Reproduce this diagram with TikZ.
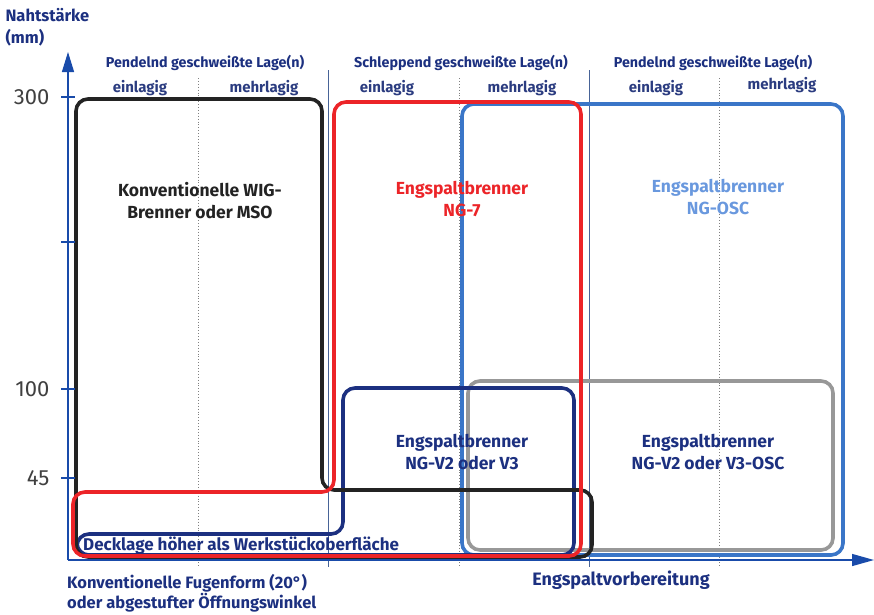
\documentclass[tikz,border=0pt]{standalone}
\usepackage{fontspec}
\setmainfont{Fira Sans}
\usepackage{tikz}
\usetikzlibrary{arrows.meta, positioning}
\definecolor{navyT}{RGB}{28,48,128}
\definecolor{axisB}{RGB}{25,75,170}
\definecolor{redT}{RGB}{236,36,40}
\definecolor{blueT}{RGB}{58,118,200}
\definecolor{lblueT}{RGB}{105,152,222}
\definecolor{grayT}{RGB}{152,152,152}
\definecolor{blackT}{RGB}{35,35,35}

\tikzset{
  hdr/.style={font=\fontsize{14.3}{16}\selectfont\bfseries, text=navyT},
  subhdr/.style={font=\fontsize{15}{16}\selectfont\bfseries, text=navyT!85!gray},
  lbl/.style={font=\fontsize{17.5}{22}\selectfont\bfseries, align=center},
  num/.style={font=\fontsize{22}{24}\selectfont, text=black!75, anchor=east},
  area/.style={line width=3.6pt, rounded corners=12pt},
  axisline/.style={axisB, line width=1.3pt},
}

\begin{document}
\begin{tikzpicture}[x=1pt, y=-1pt]
  \useasboundingbox (0,0) rectangle (874,614);

  % column dividers
  \foreach \xx in {328,589}
    \draw[axisB!55!gray, line width=0.7pt] (\xx,70) -- (\xx,567);
  \foreach \xx in {198,459,719}
    \draw[gray, dotted, line width=0.9pt] (\xx,78) -- (\xx,567);

  % areas
  \draw[area, blueT] (462,104) rectangle (843,555);
  \draw[area, grayT] (468,381) rectangle (833,550);
  \draw[area, navyT] (460,388) -- (574,388) -- (574,555) -- (77,555) -- (77,534)
    -- (343,534) -- (343,388) -- cycle;
  \draw[area, blackT] (200,99) -- (322,99) -- (322,490) -- (592,490) -- (592,557)
    -- (76,557) -- (76,99) -- cycle;
  \draw[area, redT] (460,102) -- (581,102) -- (581,556) -- (73,556) -- (73,492)
    -- (334,492) -- (334,102) -- cycle;

  % axes
  \coordinate (orig) at (68,560);
  \coordinate (ytop) at (68,52);
  \coordinate (xend) at (874,560);
  \draw[axisline, -{Triangle[length=20pt, width=12pt]}] (orig) -- (ytop);
  \draw[axisline, -{Triangle[length=22pt, width=12pt]}] (orig) -- (xend);
  \foreach \yy in {97,242,389,478}
    \draw[axisline] (61,\yy) -- (75,\yy);
  \node[num] (n300) at (53,97) {300};
  \node[num] (n100) at (53,389) {100};
  \node[num] (n45) at (53,478) {45};

  \node[font=\fontsize{16.5}{22}\selectfont\bfseries, text=navyT, align=left, anchor=west] (yname) at (2,27) {Nahtstärke\\(mm)};

  % column headers
  \node[hdr] (h1) at (205,63) {Pendelnd geschweißte Lage(n)};
  \node[hdr] (h2) at (461,63) {Schleppend geschweißte Lage(n)};
  \node[hdr] (h3) at (713,63) {Pendelnd geschweißte Lage(n)};
  \node[subhdr] (s1) at (140,88) {einlagig};
  \node[subhdr] (s2) at (264,88) {mehrlagig};
  \node[subhdr] (s3) at (387,88) {einlagig};
  \node[subhdr] (s4) at (522,88) {mehrlagig};
  \node[subhdr] (s5) at (656,88) {einlagig};
  \node[subhdr] (s6) at (782,85) {mehrlagig};

  % area labels
  \node[lbl, text=blackT] (wig) at (200,201) {Konventionelle WIG-\\Brenner oder MSO};
  \node[lbl, text=redT] (ng7) at (462,199) {Engspaltbrenner\\NG-7};
  \node[lbl, text=lblueT] (ngosc) at (718,197) {Engspaltbrenner\\NG-OSC};
  \node[lbl, text=navyT] (ngv) at (462,452) {Engspaltbrenner\\NG-V2 oder V3};
  \node[lbl, text=navyT] (ngvosc) at (708,452) {Engspaltbrenner\\NG-V2 oder V3-OSC};
  \node[font=\fontsize{17}{18}\selectfont\bfseries, text=navyT, anchor=west, inner sep=0pt] (deck) at (83,546) {Decklage höher als Werkstückoberfläche};

  % bottom labels
  \node[font=\fontsize{16.5}{18}\selectfont\bfseries, text=navyT, align=left, anchor=north west, inner sep=0pt] (fuge) at (67,574) {Konventionelle Fugenform (20°)\\oder abgestufter Öffnungswinkel};
  \node[font=\fontsize{18}{20}\selectfont\bfseries, text=navyT] (xname) at (621,580) {Engspaltvorbereitung};
\end{tikzpicture}
\end{document}
